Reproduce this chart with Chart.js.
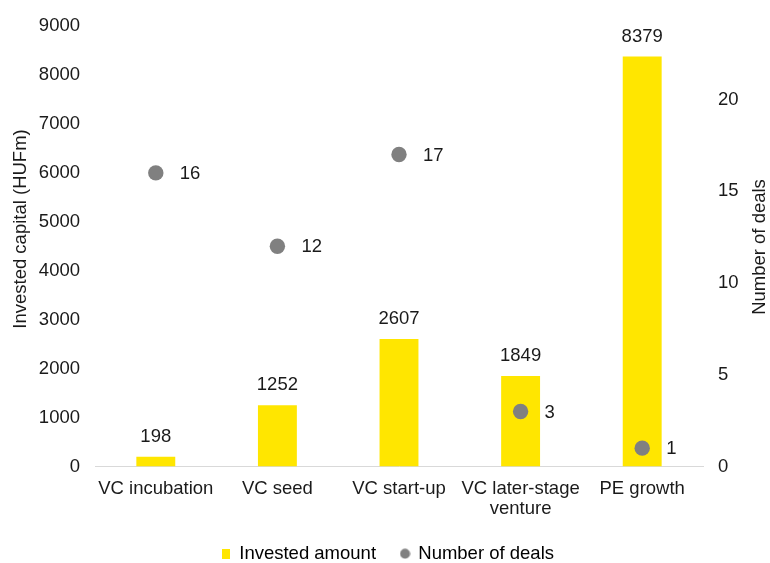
<!DOCTYPE html>
<html>
<head>
<meta charset="utf-8">
<script src="https://cdn.jsdelivr.net/npm/chart.js@4/dist/chart.umd.min.js"></script>
<style>
  html, body { margin: 0; padding: 0; background: #ffffff; }
  #wrap { width: 770px; height: 563px; position: relative; }
</style>
</head>
<body>
<div id="wrap"><canvas id="c" width="770" height="563"></canvas></div>
<script>
// Investment stages
const categories = ['VC incubation', 'VC seed', 'VC start-up', ['VC later-stage', 'venture'], 'PE growth'];
// Invested capital per stage (HUFm)
const investedAmount = [198, 1252, 2607, 1849, 8379];
// Number of deals per stage
const numberOfDeals = [16, 12, 17, 3, 1];
// Axis ticks
const leftTicks = [0, 1000, 2000, 3000, 4000, 5000, 6000, 7000, 8000, 9000];
const rightTicks = [0, 5, 10, 15, 20];

const YELLOW = '#FFE600';
const GREY = '#808080';
const TEXT = '#1a1a1a';
const FONT = '"Liberation Sans", Arial, sans-serif';
const FS = 18.5;

Chart.defaults.font.family = FONT;
Chart.defaults.font.size = FS;
Chart.defaults.color = TEXT;

function swatch(w, h, draw) {
  const c = document.createElement('canvas');
  c.width = w; c.height = h;
  draw(c.getContext('2d'), w, h);
  return c;
}
const legendRect = swatch(8, 10, (g, w, h) => { g.fillStyle = YELLOW; g.fillRect(0, 0, w, h); });
const legendDot = swatch(11, 11, (g, w, h) => {
  g.fillStyle = GREY; g.beginPath(); g.arc(w / 2, h / 2, 5, 0, Math.PI * 2); g.fill();
});

// Value labels and rotated axis titles
const annotate = {
  id: 'annotate',
  afterDatasetsDraw(chart) {
    const ctx = chart.ctx;
    ctx.save();
    ctx.font = FS + 'px ' + FONT;
    ctx.fillStyle = TEXT;
    ctx.textBaseline = 'middle';
    ctx.textAlign = 'center';
    chart.getDatasetMeta(0).data.forEach((bar, i) => {
      ctx.fillText(String(investedAmount[i]), bar.x, bar.y - 20);
    });
    ctx.textAlign = 'left';
    chart.getDatasetMeta(1).data.forEach((pt, i) => {
      ctx.fillText(String(numberOfDeals[i]), pt.x + 24, pt.y + 1);
    });
    // axis titles, both reading bottom-to-top
    const drawTitle = (text, x, y) => {
      ctx.save();
      ctx.translate(x, y);
      ctx.rotate(-Math.PI / 2);
      ctx.textAlign = 'center';
      ctx.textBaseline = 'middle';
      ctx.fillText(text, 0, 0);
      ctx.restore();
    };
    drawTitle('Invested capital (HUFm)', 21, 229);
    drawTitle('Number of deals', 760, 247);
    ctx.restore();
  }
};

new Chart(document.getElementById('c'), {
  data: {
    labels: categories,
    datasets: [
      {
        type: 'bar',
        label: 'Invested amount',
        data: investedAmount,
        backgroundColor: YELLOW,
        yAxisID: 'y',
        categoryPercentage: 1,
        barPercentage: 0.32,
        order: 2
      },
      {
        type: 'line',
        label: 'Number of deals',
        data: numberOfDeals,
        showLine: false,
        pointRadius: 7.7,
        pointHoverRadius: 7.7,
        pointBackgroundColor: GREY,
        pointBorderWidth: 0,
        borderColor: GREY,
        backgroundColor: GREY,
        yAxisID: 'y1',
        order: 1
      }
    ]
  },
  options: {
    responsive: false,
    animation: false,
    events: [],
    layout: { padding: { top: 24, left: 6, right: 0, bottom: -10 } },
    plugins: {
      tooltip: { enabled: false },
      legend: {
        position: 'bottom',
        labels: {
          usePointStyle: true,
          boxWidth: 8,
          padding: 25,
          color: TEXT,
          font: { size: FS },
          generateLabels(chart) {
            return chart.data.datasets.map((ds, i) => ({
              text: ds.label,
              datasetIndex: i,
              pointStyle: i === 0 ? legendRect : legendDot,
              fillStyle: i === 0 ? YELLOW : GREY,
              strokeStyle: 'transparent',
              lineWidth: 0,
              hidden: false
            }));
          }
        }
      }
    },
    scales: {
      x: {
        grid: { display: false, drawTicks: false },
        border: { display: true, color: '#d9d9d9', width: 1 },
        ticks: { padding: 12, maxRotation: 0, autoSkip: false, font: { size: FS, lineHeight: 1.1 } },
        afterFit(scale) { scale.height = 53; }
      },
      y: {
        position: 'left',
        min: 0,
        max: 9000,
        grid: { display: false, drawTicks: false },
        border: { display: false },
        afterBuildTicks(scale) { scale.ticks = leftTicks.map(v => ({ value: v })); },
        ticks: { padding: 15, callback: v => String(v) },
        afterFit(scale) { scale.width = 89; }
      },
      y1: {
        position: 'right',
        min: 0,
        max: 24,
        grid: { display: false, drawTicks: false },
        border: { display: false },
        afterBuildTicks(scale) { scale.ticks = rightTicks.map(v => ({ value: v })); },
        ticks: { padding: 15, callback: v => String(v) },
        afterFit(scale) { scale.width = 67; }
      }
    }
  },
  plugins: [annotate]
});
</script>
</body>
</html>
